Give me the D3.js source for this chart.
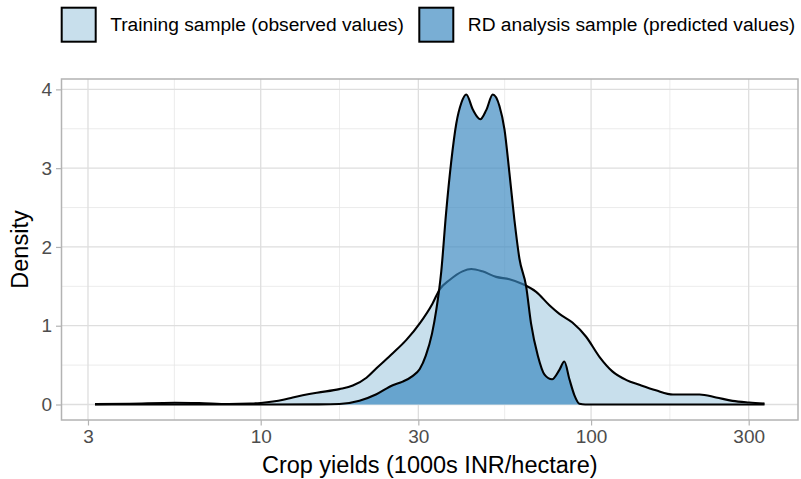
<!DOCTYPE html>
<html>
<head>
<meta charset="utf-8">
<script src="https://cdn.jsdelivr.net/npm/d3@7"></script>
<style>
  body { margin: 0; background: #fff; }
  svg { display: block; font-family: "Liberation Sans", Arial, sans-serif; }
</style>
</head>
<body>
<svg id="chart" width="801" height="479"></svg>
<script>
// Data (x in 1000s INR/hectare, log scale)
const seriesNames = ["Training sample (observed values)", "RD analysis sample (predicted values)"];

const trainX = [3.15, 4.0, 5.5, 6.5, 8.0, 9.3, 10, 11.7, 12.5, 14.8, 17.3, 19.0, 20.9, 22.4, 25.1, 27.6,
  30.3, 33.1, 34.8, 37.3, 40.8, 43.4, 46.9, 51.6, 56.6, 62.0, 68.2, 74.8, 80.2, 87.8, 96.6,
  106, 116, 128, 140, 157, 177, 213, 239, 268, 301, 335];
const trainY = [0.005, 0.01, 0.022, 0.018, 0.006, 0.012, 0.02, 0.06, 0.09, 0.15, 0.195, 0.24, 0.34, 0.46, 0.65, 0.82,
  1.03, 1.28, 1.46, 1.58, 1.69, 1.72, 1.69, 1.62, 1.59, 1.53, 1.43, 1.26, 1.15, 1.04, 0.86,
  0.605, 0.42, 0.31, 0.25, 0.18, 0.127, 0.127, 0.09, 0.046, 0.025, 0.012];

const rdX = [3.15, 10, 15, 17.3, 19.9, 22.4, 25.1, 26.9, 28.8, 30.3, 31.6, 33.0, 34.0, 35.2, 36.4, 37.7, 39.1,
  40.5, 41.9, 43.9, 46.2, 48.2, 50.4, 52.8, 54.7, 56.6, 58.6, 60.7, 63.6, 65.8, 69.0, 72.3,
  76.2, 80.2, 83.0, 86.0, 89.0, 92.2, 96, 335];
const rdY = [0, 0, 0.002, 0.006, 0.047, 0.13, 0.245, 0.29, 0.36, 0.45, 0.62, 0.9, 1.2, 1.69, 2.43, 3.07, 3.57,
  3.83, 3.935, 3.74, 3.62, 3.74, 3.935, 3.79, 3.49, 2.94, 2.345, 1.85, 1.5, 1.03, 0.62, 0.38,
  0.32, 0.44, 0.545, 0.32, 0.12, 0.01, 0, 0];

const xTicks = [3, 10, 30, 100, 300];
const yTicks = [0, 1, 2, 3, 4];

const fills = ["#c8dfec", "#3a87c0"];
const fillOpacity = [1, 0.68];

// Layout
const panel = {left: 61.5, right: 798, top: 79, bottom: 420};
const svg = d3.select("#chart");

// Scales (ggplot-style 5% expansion)
const lx = [Math.log10(3.15), Math.log10(335)];
const padX = (lx[1] - lx[0]) * 0.05;
const x = d3.scaleLog()
  .domain([Math.pow(10, lx[0] - padX), Math.pow(10, lx[1] + padX)])
  .range([panel.left, panel.right]);

const yMax = d3.max(rdY.concat(trainY));
const padY = yMax * 0.05;
const y = d3.scaleLinear()
  .domain([-padY, yMax + padY])
  .range([panel.bottom, panel.top]);

// Minor breaks: midpoints between majors (in log space for x)
const xMinor = [];
const xAll = [1].concat(xTicks).concat([1000]);
for (let i = 0; i < xAll.length - 1; i++) {
  const m = Math.sqrt(xAll[i] * xAll[i + 1]);
  if (m > x.domain()[0] && m < x.domain()[1]) xMinor.push(m);
}
const yMinor = [0.5, 1.5, 2.5, 3.5];

const grid = svg.append("g");
grid.selectAll(".xminor").data(xMinor).enter().append("line")
  .attr("x1", d => x(d)).attr("x2", d => x(d))
  .attr("y1", panel.top).attr("y2", panel.bottom)
  .attr("stroke", "#e6e6e6").attr("stroke-width", 0.8);
grid.selectAll(".yminor").data(yMinor).enter().append("line")
  .attr("x1", panel.left).attr("x2", panel.right)
  .attr("y1", d => y(d)).attr("y2", d => y(d))
  .attr("stroke", "#e6e6e6").attr("stroke-width", 0.8);
grid.selectAll(".xmajor").data(xTicks).enter().append("line")
  .attr("x1", d => x(d)).attr("x2", d => x(d))
  .attr("y1", panel.top).attr("y2", panel.bottom)
  .attr("stroke", "#dedede").attr("stroke-width", 1.3);
grid.selectAll(".ymajor").data(yTicks).enter().append("line")
  .attr("x1", panel.left).attr("x2", panel.right)
  .attr("y1", d => y(d)).attr("y2", d => y(d))
  .attr("stroke", "#dedede").attr("stroke-width", 1.3);

// Density curves
const curve = d3.curveMonotoneX;
const area = d3.area().x(d => x(d[0])).y0(y(0)).y1(d => y(d[1])).curve(curve);
const line = d3.line().x(d => x(d[0])).y(d => y(d[1])).curve(curve);

const series = [
  d3.zip(trainX, trainY),
  d3.zip(rdX, rdY)
];

series.forEach((s, i) => {
  svg.append("path").datum(s)
    .attr("d", area)
    .attr("fill", fills[i])
    .attr("fill-opacity", fillOpacity[i]);
  svg.append("path").datum(s)
    .attr("d", line)
    .attr("fill", "none")
    .attr("stroke", "#000")
    .attr("stroke-width", 2.1)
    .attr("stroke-linejoin", "round");
});

// Panel border
svg.append("rect")
  .attr("x", panel.left).attr("y", panel.top)
  .attr("width", panel.right - panel.left).attr("height", panel.bottom - panel.top)
  .attr("fill", "none").attr("stroke", "#b3b3b3").attr("stroke-width", 1.5);

// Axes
const xAxis = svg.append("g")
  .attr("transform", `translate(0,${panel.bottom})`)
  .call(d3.axisBottom(x).tickValues(xTicks).tickFormat(d3.format("d")).tickSize(5.5).tickPadding(4));
const yAxis = svg.append("g")
  .attr("transform", `translate(${panel.left},0)`)
  .call(d3.axisLeft(y).tickValues(yTicks).tickFormat(d3.format("d")).tickSize(5.5).tickPadding(4));

[xAxis, yAxis].forEach(a => {
  a.select(".domain").remove();
  a.selectAll(".tick line").attr("stroke", "#b3b3b3").attr("stroke-width", 1.2);
  a.selectAll(".tick text")
    .attr("fill", "#4d4d4d")
    .style("font-size", "19px")
    .style("font-family", "Liberation Sans, Arial, sans-serif");
});

// Axis titles
svg.append("text")
  .attr("x", (panel.left + panel.right) / 2)
  .attr("y", 473)
  .attr("text-anchor", "middle")
  .style("font-size", "23.5px")
  .text("Crop yields (1000s INR/hectare)");

svg.append("text")
  .attr("transform", `translate(28,${(panel.top + panel.bottom) / 2}) rotate(-90)`)
  .attr("text-anchor", "middle")
  .style("font-size", "23.5px")
  .text("Density");

// Legend
const legendX = [61.7, 419.3];
const legend = svg.append("g");
seriesNames.forEach((name, i) => {
  const g = legend.append("g").attr("transform", `translate(${legendX[i]},7.7)`);
  g.append("rect")
    .attr("width", 34).attr("height", 34)
    .attr("fill", "#fff");
  g.append("rect")
    .attr("width", 34).attr("height", 34)
    .attr("fill", fills[i]).attr("fill-opacity", fillOpacity[i])
    .attr("stroke", "#000").attr("stroke-width", 2);
  g.append("text")
    .attr("x", 48.5).attr("y", 17)
    .attr("dy", "0.35em")
    .style("font-size", "19.2px")
    .text(name);
});
</script>
</body>
</html>
